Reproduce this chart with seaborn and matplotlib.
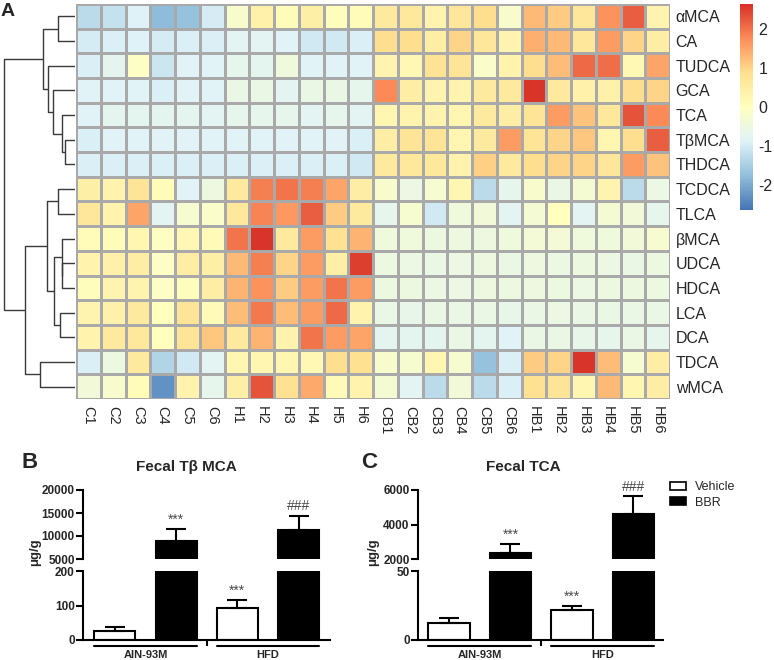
import numpy as np
import pandas as pd
import matplotlib
matplotlib.use("Agg")
import matplotlib.pyplot as plt
import matplotlib.transforms as mtransforms
from matplotlib.colors import LinearSegmentedColormap
from matplotlib.patches import Patch
import seaborn as sns

# ---- panel A: z-scored bile acid levels ----
bile_acids = ["αMCA", "CA", "TUDCA", "GCA", "TCA", "TβMCA", "THDCA", "TCDCA",
              "TLCA", "βMCA", "UDCA", "HDCA", "LCA", "DCA", "TDCA", "wMCA"]
samples = ["C1", "C2", "C3", "C4", "C5", "C6", "H1", "H2", "H3", "H4", "H5", "H6",
           "CB1", "CB2", "CB3", "CB4", "CB5", "CB6", "HB1", "HB2", "HB3", "HB4", "HB5", "HB6"]
zscores = [
    [-1.3, -1.2, -0.9, -1.8, -1.7, -1.0, -0.2, 0.4, 0.1, 0.45, 0.05, 0.1,
     0.6, 0.65, 0.35, 0.7, 0.9, -0.2, 1.3, 1.1, 0.7, 1.7, 2.2, 0.3],
    [-1.0, -0.95, -0.9, -1.0, -0.95, -0.95, -0.8, -0.8, -0.85, -1.05, -1.05, -0.95,
     0.9, 0.9, 0.5, 1.0, 0.7, 0.3, 1.4, 1.3, 0.7, 1.6, 1.0, 0.5],
    [-0.95, -0.75, -0.1, -1.1, -0.85, -0.85, -0.7, -0.75, -0.45, -0.85, -0.85, -0.85,
     0.3, 0.2, 0.8, 0.75, -0.15, 0.35, 0.9, 1.25, 2.1, 2.05, 0.2, 1.5],
    [-0.85, -0.85, -0.85, -0.95, -0.85, -0.85, -0.6, -0.6, -0.8, -0.6, -0.6, -0.7,
     1.8, 0.5, 0.3, 0.3, 0.6, 0.6, 2.6, 0.6, 0.4, 0.4, 0.9, 1.0],
    [-0.85, -0.75, -0.75, -0.75, -0.75, -0.8, -0.7, -0.7, -0.7, -0.8, -0.7, -0.8,
     0.25, 0.35, 0.3, 0.25, 0.6, 0.5, 0.75, 1.6, 1.2, 0.65, 2.3, 1.8],
    [-0.95, -0.85, -0.85, -0.85, -0.85, -0.85, -0.85, -0.85, -0.85, -0.85, -0.85, -0.95,
     0.5, 0.75, 0.75, 0.25, 0.6, 1.6, 0.75, 1.0, 1.15, 0.25, 0.9, 2.2],
    [-0.95, -0.95, -0.95, -0.95, -0.95, -0.95, -0.95, -0.95, -0.95, -0.95, -0.95, -1.05,
     0.6, 0.65, 0.65, 0.35, 1.05, 0.6, 0.9, 1.0, 1.0, 0.7, 1.6, 1.2],
    [0.45, 0.35, 0.75, 0.1, -0.85, -0.5, 0.6, 1.9, 2.0, 1.9, 1.5, 0.5,
     -0.2, -0.55, -0.25, 0.25, -1.3, -0.7, -0.2, -0.6, -0.3, 0.3, -1.3, -0.55],
    [0.7, 0.35, 1.5, -0.8, -0.25, -0.15, 0.65, 1.85, 1.65, 2.2, 1.1, 0.6,
     -0.7, -0.25, -1.05, -0.45, -0.4, -0.8, -0.3, 0.0, -0.8, -0.3, -0.4, -0.7],
    [0.1, 0.1, 0.25, -0.05, 0.2, 0.15, 2.0, 2.6, 0.6, 1.6, 0.85, 1.35,
     -0.45, -0.45, -0.5, -0.5, -0.5, -0.45, -0.35, -0.35, -0.45, -0.45, -0.4, -0.25],
    [0.35, 0.4, 0.5, -0.1, 0.5, 0.45, 1.3, 1.9, 1.0, 1.6, 0.45, 2.5,
     -0.5, -0.55, -0.6, -0.55, -0.5, -0.6, -0.5, -0.55, -0.5, -0.55, -0.6, -0.5],
    [0.05, 0.3, 0.3, -0.1, 0.05, 0.5, 1.35, 1.7, 1.1, 1.6, 2.0, 1.6,
     -0.5, -0.5, -0.55, -0.55, -0.5, -0.5, -0.5, -0.5, -0.55, -0.5, -0.5, -0.5],
    [0.3, 0.4, 0.6, 0.0, 0.75, 0.15, 1.25, 1.95, 1.25, 1.6, 2.1, 0.35,
     -0.6, -0.65, -0.6, -0.6, -0.6, -0.65, -0.6, -0.55, -0.6, -0.6, -0.6, -0.6],
    [0.35, 0.6, 0.65, 0.0, 0.75, 1.15, 0.6, 1.35, 0.35, 2.0, 1.6, 1.5,
     -0.75, -0.75, -0.75, -0.6, -0.75, -0.85, -0.6, -0.6, -0.65, -0.7, -0.6, -0.7],
    [-0.95, -0.5, 0.6, -1.4, -1.05, -0.8, 0.25, 0.25, 0.25, 0.2, 0.9, 0.85,
     -0.2, -0.25, 0.25, -0.25, -1.7, -0.95, 1.1, 1.0, 2.6, 1.25, -0.25, 0.5],
    [-0.4, -0.2, 0.1, -2.3, 0.35, -0.7, 0.45, 2.3, 0.85, 1.45, 0.15, 0.35,
     -0.3, -0.8, -1.3, -0.4, -1.3, -0.95, 0.85, 0.75, 0.25, 1.3, 0.25, 0.5],
]

# row dendrogram merges (scipy-like: node 16+k is merge k)
dend_left = [0, 5, 4, 3, 2, 16, 7, 10, 9, 12, 24, 22, 14, 27, 21]
dend_right = [1, 6, 17, 18, 19, 20, 8, 11, 23, 13, 25, 26, 15, 28, 29]
dend_height = [17, 10, 13.3, 22, 27, 32, 17, 12.8, 13.3, 15, 21, 28.3, 35, 50, 71]

# ---- panels B and C: fecal bile acids, mean and SEM (ug/g) ----
diets = ["AIN-93M", "HFD"]
treatments = ["Vehicle", "BBR"]
tbmca_vehicle = [26, 93]
tbmca_vehicle_err = [12, 24]
tbmca_bbr = [9000, 11200]
tbmca_bbr_err = [2600, 3250]
tca_vehicle = [12.0, 22.1]
tca_vehicle_err = [3.6, 2.4]
tca_bbr = [2350, 4600]
tca_bbr_err = [520, 1060]
sig_marks = ["", "***", "***", "###"]   # AIN Veh, AIN BBR, HFD Veh, HFD BBR

sns.set_style("white")
plt.rcParams["font.family"] = ["Liberation Sans", "DejaVu Sans"]
plt.rcParams["axes.unicode_minus"] = False

W, H = 774, 660
fig = plt.figure(figsize=(W / 100, H / 100), dpi=100)


def box(x0, y0, x1, y1):
    # pixel box (top-left origin) -> figure fraction rect
    return [x0 / W, 1 - y1 / H, (x1 - x0) / W, (y1 - y0) / H]


# heatmap
cmap = LinearSegmentedColormap.from_list(
    "pheat", ["#4575B4", "#91BFDB", "#E0F3F8", "#FFFFBF", "#FEE090", "#FC8D59", "#D73027"])
hm = pd.DataFrame(zscores, index=bile_acids, columns=samples)
ax_hm = fig.add_axes(box(76, 4, 670, 399))
cax = fig.add_axes(box(740, 4, 753, 210))
sns.heatmap(hm, ax=ax_hm, cbar_ax=cax, cmap=cmap, vmin=-2.65, vmax=2.65,
            linewidths=0.9, linecolor="#a9a9a9")
ax_hm.yaxis.tick_right()
ax_hm.tick_params(axis="both", length=0)
ax_hm.tick_params(axis="y", pad=4)
ax_hm.tick_params(axis="x", pad=5)
ax_hm.set_yticklabels(bile_acids, rotation=0, fontsize=11.5)
ax_hm.set_xticklabels(samples, rotation=270, fontsize=10.5, va="top")
ax_hm.set_xlabel("")
ax_hm.set_ylabel("")
cb = ax_hm.collections[0].colorbar
cb.outline.set_visible(False)
cb.set_ticks([-2, -1, 0, 1, 2])
cb.ax.tick_params(length=0, labelsize=11.5, pad=4)

# dendrogram
ax_d = fig.add_axes(box(0, 4, 75, 399))
pos = {i: (i + 0.5, 0.0) for i in range(len(bile_acids))}
for k, (l, r, h) in enumerate(zip(dend_left, dend_right, dend_height)):
    y1, h1 = pos[l]
    y2, h2 = pos[r]
    ax_d.plot([h1, h, h, h2], [y1, y1, y2, y2], color="#3a3a3a", lw=1.0,
              solid_capstyle="butt")
    pos[len(bile_acids) + k] = ((y1 + y2) / 2, h)
ax_d.set_xlim(75, 0)
ax_d.set_ylim(len(bile_acids), 0)
ax_d.axis("off")


def broken_bars(top_box, bot_box, vehicle, vehicle_err, bbr, bbr_err,
                top_lim, top_ticks, bot_lim, bot_ticks, xlim):
    ax_t = fig.add_axes(box(*top_box))
    ax_b = fig.add_axes(box(*bot_box))
    df = pd.DataFrame({
        "diet": diets * 2,
        "treatment": ["Vehicle"] * 2 + ["BBR"] * 2,
        "value": list(vehicle) + list(bbr),
    })
    errs = [vehicle_err[0], bbr_err[0], vehicle_err[1], bbr_err[1]]
    for ax in (ax_t, ax_b):
        sns.barplot(data=df, x="diet", y="value", hue="treatment",
                    hue_order=treatments, order=diets,
                    palette={"Vehicle": "white", "BBR": "black"},
                    edgecolor="black", linewidth=1.5, width=1.0, gap=0.33,
                    errorbar=None, legend=False, ax=ax)
        bars = sorted(ax.patches, key=lambda p: p.get_x())
        xs = [p.get_x() + p.get_width() / 2 for p in bars]
        hs = [p.get_height() for p in bars]
        ax.errorbar(xs, hs, yerr=[np.zeros(4), errs], fmt="none", ecolor="black",
                    elinewidth=1.5, capsize=7.5, capthick=1.5, zorder=3)
        ax.set_xlim(*xlim)
        ax.set_xlabel("")
        ax.set_ylabel("")
        for s in ("top", "right"):
            ax.spines[s].set_visible(False)
        for s in ("left", "bottom"):
            ax.spines[s].set_linewidth(1.5)
            ax.spines[s].set_color("black")
        ax.tick_params(axis="y", length=5, width=1.5, labelsize=8.5, pad=1,
                       left=True, color="black")
    ax_t.set_ylim(*top_lim)
    ax_t.set_yticks(top_ticks)
    ax_t.set_yticklabels([str(v) for v in top_ticks], fontweight="bold")
    ax_t.spines["bottom"].set_visible(False)
    ax_t.set_xticks([])
    ax_b.set_ylim(*bot_lim)
    ax_b.set_yticks(bot_ticks)
    ax_b.set_yticklabels([str(v) for v in bot_ticks], fontweight="bold")
    ax_b.set_xticks([0, 1])
    ax_b.set_xticklabels(diets, fontweight="bold", fontsize=8)
    ax_b.tick_params(axis="x", length=0, pad=7)
    ax_b.set_xticks([0.5], minor=True)
    ax_b.tick_params(axis="x", which="minor", length=4, width=1.5, bottom=True,
                     color="black")
    # group underlines
    bars = sorted(ax_b.patches, key=lambda p: p.get_x())
    trans = mtransforms.blended_transform_factory(ax_b.transData, ax_b.transAxes)
    for g in range(2):
        x0 = bars[2 * g].get_x()
        x1 = bars[2 * g + 1].get_x() + bars[2 * g + 1].get_width()
        ax_b.plot([x0, x1], [-0.09, -0.09], color="black", lw=1.5,
                  transform=trans, clip_on=False)
    # significance marks
    tops = [bars[i].get_height() + errs[i] for i in range(4)]
    for i, mark in enumerate(sig_marks):
        if not mark:
            continue
        ax = ax_b if tops[i] <= bot_lim[1] else ax_t
        xc = bars[i].get_x() + bars[i].get_width() / 2
        ax.annotate(mark, (xc, tops[i]), xytext=(0, 1.5), textcoords="offset points",
                    ha="center", va="bottom", fontsize=10, color="#4a4a4a",
                    annotation_clip=False)
    return ax_t, ax_b


broken_bars((83, 490, 330, 559), (83, 571, 330, 640),
            tbmca_vehicle, tbmca_vehicle_err, tbmca_bbr, tbmca_bbr_err,
            (5000, 20000), [5000, 10000, 15000, 20000], (0, 200), [0, 100, 200],
            (-0.51, 1.506))
broken_bars((418, 490, 663, 559), (418, 571, 663, 640),
            tca_vehicle, tca_vehicle_err, tca_bbr, tca_bbr_err,
            (2000, 6000), [2000, 4000, 6000], (0, 50), [0, 50],
            (-0.502, 1.49))

# titles, labels
fig.text(186 / W, 1 - 467 / H, "Fecal Tβ MCA", ha="center", va="center",
         fontsize=11, fontweight="bold")
fig.text(523 / W, 1 - 467 / H, "Fecal TCA", ha="center", va="center",
         fontsize=11, fontweight="bold")
fig.text(35 / W, 1 - 552 / H, "μg/g", rotation=90, ha="center", va="center",
         fontsize=9.5, fontweight="bold")
fig.text(373 / W, 1 - 552 / H, "μg/g", rotation=90, ha="center", va="center",
         fontsize=9.5, fontweight="bold")
fig.text(8 / W, 1 - 12 / H, "A", ha="center", va="center", fontsize=14,
         fontweight="bold")
fig.text(30 / W, 1 - 463 / H, "B", ha="center", va="center", fontsize=16,
         fontweight="bold")
fig.text(369 / W, 1 - 463 / H, "C", ha="center", va="center", fontsize=16,
         fontweight="bold")

handles = [Patch(facecolor="white", edgecolor="black", linewidth=1.2),
           Patch(facecolor="black", edgecolor="black", linewidth=1.2)]
fig.legend(handles, treatments, loc="upper left", bbox_to_anchor=(670 / W, 1 - 481 / H),
           frameon=False, fontsize=9, handlelength=1.3, handleheight=0.6,
           handletextpad=0.7, labelspacing=0.3, borderpad=0, borderaxespad=0)

fig.savefig("out.png", dpi=100)
